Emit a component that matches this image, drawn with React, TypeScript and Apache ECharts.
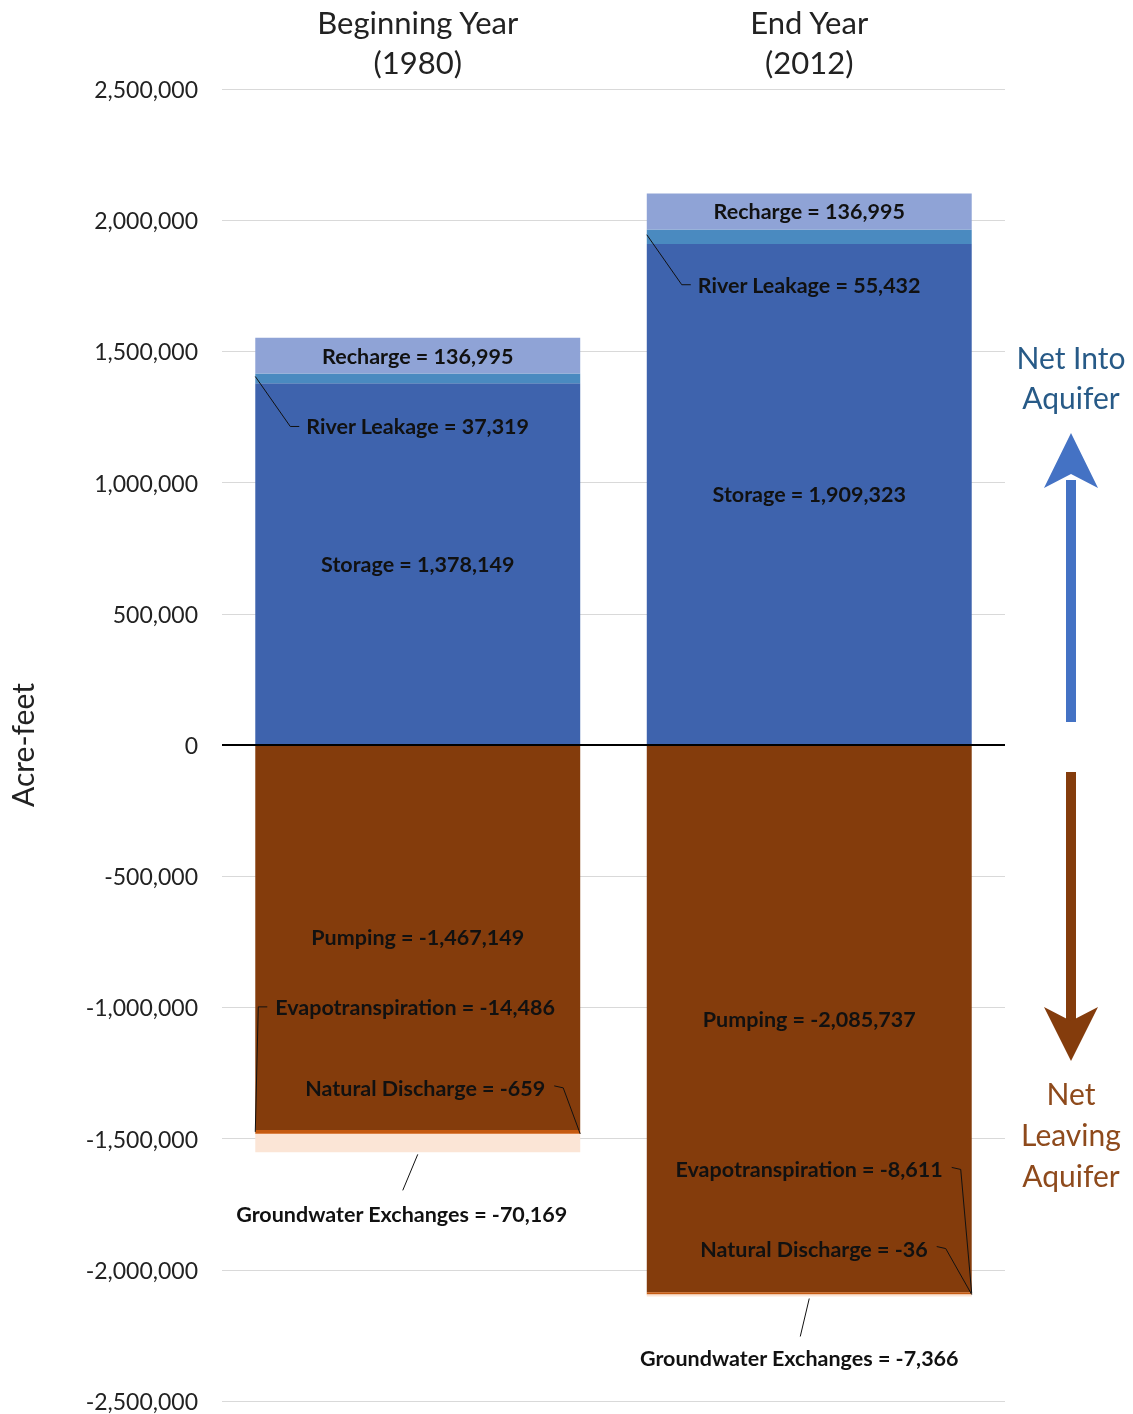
import React, { useEffect, useRef } from "react";
import * as echarts from "echarts";

const categories = ["Beginning Year\n(1980)", "End Year\n(2012)"];
const storage = [1378149, 1909323];
const riverLeakage = [37319, 55432];
const recharge = [136995, 136995];
const pumping = [-1467149, -2085737];
const evapotranspiration = [-14486, -8611];
const naturalDischarge = [-659, -36];
const groundwaterExchanges = [-70169, -7366];
const yMin = -2500000;
const yMax = 2500000;
const yInterval = 500000;

const FONT = "Lato, 'Open Sans', sans-serif";
const BAR_RATIO = 0.83;

const fmt = (v: number) => (v < 0 ? "-" : "") + Math.abs(v).toLocaleString("en-US");

export default function App() {
  const ref = useRef<HTMLDivElement>(null);
  useEffect(() => {
    document.body.style.margin = "0";
    const chart = echarts.init(ref.current!, undefined, { renderer: "svg", width: 1133, height: 1414 });
    const mk = (name: string, data: number[], color: string, extra: any = {}) => ({
      name,
      type: "bar",
      stack: "total",
      data,
      barWidth: BAR_RATIO * 100 + "%",
      itemStyle: { color },
      silent: true,
      ...extra,
    });
    chart.setOption({
      animation: false,
      grid: { left: 222, right: 128, top: 89, bottom: 13, containLabel: false, outerBoundsMode: "none" },
      xAxis: {
        type: "category",
        data: categories,
        position: "top",
        axisLine: { show: false },
        axisTick: { show: false },
        axisLabel: { fontSize: 31, color: "#222", fontFamily: FONT, lineHeight: 40, margin: 7 },
      },
      yAxis: {
        type: "value",
        min: yMin,
        max: yMax,
        interval: yInterval,
        name: "Acre-feet",
        nameLocation: "middle",
        nameRotate: 90,
        nameGap: 185,
        nameTextStyle: { fontSize: 30, color: "#222", fontFamily: FONT },
        axisLabel: {
          fontSize: 23,
          color: "#222",
          fontFamily: FONT,
          margin: 24,
          formatter: (v: number) => fmt(v),
        },
        axisLine: { show: false },
        axisTick: { show: false },
        splitLine: { lineStyle: { color: "#D9D9D9", width: 1 } },
      },
      series: [
        mk("Storage", storage, "#3E63AD", {
          markLine: {
            silent: true,
            symbol: "none",
            label: { show: false },
            lineStyle: { color: "#000", width: 2, type: "solid" },
            data: [{ yAxis: 0 }],
          },
        }),
        mk("River Leakage", riverLeakage, "#4A8AC0"),
        mk("Recharge", recharge, "#8FA3D6"),
        mk("Pumping", pumping, "#843C0C"),
        mk("Evapotranspiration", evapotranspiration, "#C55A11"),
        mk("Natural Discharge", naturalDischarge, "#ED7D31"),
        mk("Groundwater Exchanges", groundwaterExchanges, "#FBE5D6"),
      ],
    });

    const px = (cat: number, v: number) =>
      chart.convertToPixel({ xAxisIndex: 0, yAxisIndex: 0 }, [cat, v]) as number[];
    const catW = px(1, 0)[0] - px(0, 0)[0];
    const half = (catW * BAR_RATIO) / 2;

    const graphics: any[] = [];
    const textStyle = { fontSize: 21.5, fontWeight: "bold", fill: "#111", fontFamily: FONT };
    const lineStyle = { stroke: "#111", lineWidth: 1, fill: null };

    categories.forEach((_, i) => {
      const cx = px(i, 0)[0];
      const L = cx - half;
      const R = cx + half;
      const Y = (v: number) => px(i, v)[1];
      const sTop = storage[i];
      const lTop = sTop + riverLeakage[i];
      const pBot = pumping[i];
      const eBot = pBot + evapotranspiration[i];
      const nBot = eBot + naturalDischarge[i];
      const gBot = nBot + groundwaterExchanges[i];

      const addText = (text: string, x: number, y: number, align: string) =>
        graphics.push({
          type: "text",
          x,
          y,
          style: { ...textStyle, text, align, verticalAlign: "middle" },
          z: 10,
        });
      const addLine = (pts: number[][]) =>
        graphics.push({ type: "polyline", shape: { points: pts }, style: lineStyle, z: 10 });

      // Recharge
      addText("Recharge = " + fmt(recharge[i]), cx, Y(lTop + recharge[i] / 2), "center");
      // River leakage
      const lm = Y(sTop + riverLeakage[i] / 2);
      addText("River Leakage = " + fmt(riverLeakage[i]), L + 51, lm + 48, "left");
      addLine([
        [L, lm - 2],
        [L + 35, lm + 48],
        [L + 44, lm + 48],
      ]);
      // Storage
      addText("Storage = " + fmt(storage[i]), cx, Y(sTop / 2), "center");
      // Pumping
      addText("Pumping = " + fmt(pumping[i]), cx, Y(pBot / 2), "center");
      // Evapotranspiration
      const em = Y(pBot + evapotranspiration[i] / 2);
      if (i === 0) {
        addText("Evapotranspiration = " + fmt(evapotranspiration[i]), L + 20, em - 125, "left");
        addLine([
          [L + 12, em - 125],
          [L + 3, em - 125],
          [L, em],
        ]);
      } else {
        addText("Evapotranspiration = " + fmt(evapotranspiration[i]), R - 29, em - 124, "right");
        addLine([
          [R - 20, em - 126],
          [R - 11, em - 124],
          [R, em],
        ]);
      }
      // Natural discharge
      const nm = Y(eBot + naturalDischarge[i] / 2);
      const nOff = i === 0 ? 35 : 44;
      addText("Natural Discharge = " + fmt(naturalDischarge[i]), R - nOff, nm - 46, "right");
      addLine([
        [R - nOff + 9, nm - 48],
        [R - nOff + 18, nm - 46],
        [R, nm],
      ]);
      // Groundwater exchanges
      const gb = Y(gBot);
      const gOff = i === 0 ? 16 : 10;
      const gLen = i === 0 ? 38 : 40;
      addText("Groundwater Exchanges = " + fmt(groundwaterExchanges[i]), cx - gOff, gb + 62, "center");
      addLine([
        [cx, gb + 2],
        [cx - gOff + 1, gb + gLen],
      ]);
    });

    // Right-side arrows and captions
    const ax = 1071;
    graphics.push(
      { type: "rect", shape: { x: ax - 5, y: 480, width: 10, height: 242 }, style: { fill: "#4472C4" } },
      {
        type: "polygon",
        shape: { points: [[ax, 433], [ax + 27, 488], [ax, 474], [ax - 27, 488]] },
        style: { fill: "#4472C4" },
      },
      { type: "rect", shape: { x: ax - 5, y: 772, width: 10, height: 250 }, style: { fill: "#843C0C" } },
      {
        type: "polygon",
        shape: { points: [[ax, 1061], [ax + 27, 1007], [ax, 1021], [ax - 27, 1007]] },
        style: { fill: "#843C0C" },
      },
      {
        type: "text",
        x: ax,
        y: 377,
        style: {
          text: "Net Into\nAquifer",
          align: "center",
          verticalAlign: "middle",
          fontSize: 30,
          lineHeight: 40,
          fill: "#275A87",
          fontFamily: FONT,
        },
      },
      {
        type: "text",
        x: ax,
        y: 1134,
        style: {
          text: "Net\nLeaving\nAquifer",
          align: "center",
          verticalAlign: "middle",
          fontSize: 30,
          lineHeight: 41,
          fill: "#8E4A1C",
          fontFamily: FONT,
        },
      }
    );

    chart.setOption({ graphic: graphics });
    return () => chart.dispose();
  }, []);
  return (
    <div
      ref={ref}
      style={{ position: "fixed", left: 0, top: 0, width: 1133, height: 1414 }}
    />
  );
}
